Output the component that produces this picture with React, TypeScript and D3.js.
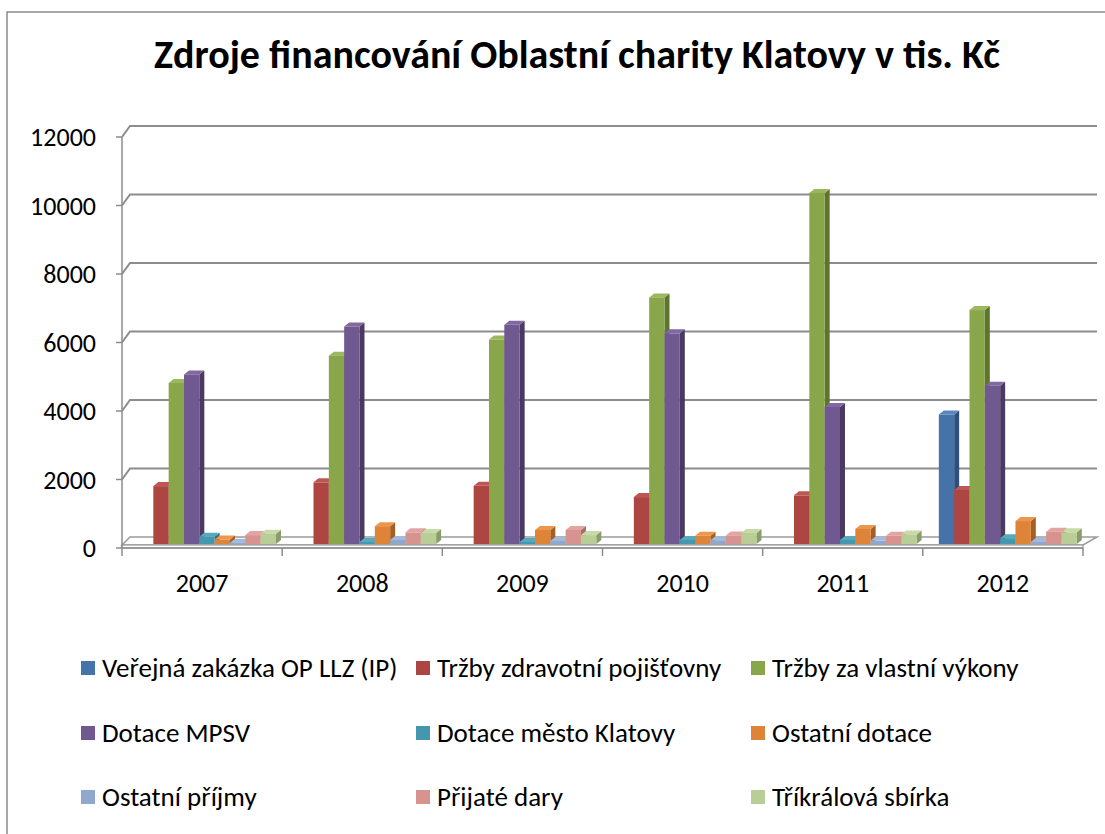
import React from 'react';
import * as d3 from 'd3';

const years = ['2007', '2008', '2009', '2010', '2011', '2012'];
const seriesNames = [
  'Veřejná zakázka OP LLZ (IP)',
  'Tržby zdravotní pojišťovny',
  'Tržby za vlastní výkony',
  'Dotace MPSV',
  'Dotace město Klatovy',
  'Ostatní dotace',
  'Ostatní příjmy',
  'Přijaté dary',
  'Tříkrálová sbírka',
];
const verejnaZakazka = [0, 0, 0, 0, 0, 3780];
const trzbyPojistovny = [1690, 1800, 1700, 1370, 1420, 1580];
const trzbyVykony = [4700, 5500, 5970, 7200, 10250, 6830];
const dotaceMPSV = [4950, 6350, 6400, 6150, 4000, 4620];
const dotaceMesto = [210, 60, 60, 120, 120, 170];
const ostatniDotace = [130, 520, 410, 240, 440, 670];
const ostatniPrijmy = [40, 120, 90, 110, 100, 60];
const prijateDary = [260, 340, 410, 250, 240, 360];
const trikralovaSbirka = [300, 320, 260, 320, 280, 340];
const yTicks = [0, 2000, 4000, 6000, 8000, 10000, 12000];

const seriesValues = [
  verejnaZakazka, trzbyPojistovny, trzbyVykony, dotaceMPSV, dotaceMesto,
  ostatniDotace, ostatniPrijmy, prijateDary, trikralovaSbirka,
];

// front, side, top shades (Excel 2007 palette with 3D lighting)
const colors = [
  ['#4672AA', '#2F4E78', '#5A86BE'],
  ['#AD4542', '#7A2D2B', '#BE5653'],
  ['#8AA64B', '#5E7530', '#9CB85C'],
  ['#705890', '#4A3A62', '#8168A2'],
  ['#4398AF', '#2C6C7E', '#56AAC0'],
  ['#DE8438', '#A65F22', '#F0964A'],
  ['#91A8CE', '#6A7FA3', '#A3BADF'],
  ['#D79390', '#A86C6A', '#E3A4A1'],
  ['#B9CD96', '#8A9C6A', '#C8DAA6'],
];

const FONT = "Carlito, Calibri, Lato, 'Open Sans', sans-serif";

const App: React.FC = () => {
  const width = 1105;
  const height = 834;

  const left = 122;
  const right = 1083;
  const floorY = 548;
  const depth = { dx: 8, dy: -11 };
  const bar = { dx: 5, dy: -4, base: -4 };

  const y = d3.scaleLinear().domain([0, 12000]).range([floorY, 137]);
  const x = d3.scaleBand<string>().domain(years).range([left, right]);
  const inner = d3.scaleBand<number>()
    .domain(d3.range(seriesNames.length))
    .range([16, 16 + 9 * 15.33]);

  const legendCols = [81, 416, 751];
  const legendRows = [668, 733, 797];

  return (
    <svg width={width} height={height} style={{ position: 'absolute', left: 0, top: 0, background: '#fff' }}>
      <rect x={7} y={12} width={width} height={height} fill="#fff" stroke="#8a8a8a" strokeWidth={1.5} />

      <text x={577} y={68} textAnchor="middle" fontFamily={FONT} fontWeight="bold" fontSize={40} fill="#000">
        Zdroje financování Oblastní charity Klatovy v tis. Kč
      </text>

      {/* floor */}
      <polygon
        points={`${left},${floorY - 3} ${right},${floorY - 3} ${right + depth.dx + 6},${floorY - 11} ${left + depth.dx},${floorY - 11}`}
        fill="#fff" stroke="#9a9a9a" strokeWidth={1.5}
      />
      <rect x={left} y={floorY - 3} width={right - left} height={3} fill="#fff" stroke="#9a9a9a" strokeWidth={1.2} />

      {/* gridlines on back and left walls */}
      {yTicks.map(t => (
        <g key={t}>
          {t > 0 && (
            <path
              d={`M${left},${y(t)} L${left + depth.dx},${y(t) + depth.dy} L${right + 14},${y(t) + depth.dy}`}
              fill="none" stroke="#8c8c8c" strokeWidth={2}
            />
          )}
          <line x1={left - 6} x2={left} y1={y(t)} y2={y(t)} stroke="#8c8c8c" strokeWidth={1.5} />
          <text x={96} y={y(t)} dy="0.35em" textAnchor="end" fontFamily={FONT} fontSize={26} fill="#000">
            {t}
          </text>
        </g>
      ))}
      <line x1={left} x2={left} y1={y(12000)} y2={floorY} stroke="#8c8c8c" strokeWidth={1.5} />

      {/* category axis */}
      <line x1={left} x2={right} y1={floorY} y2={floorY} stroke="#8c8c8c" strokeWidth={1.5} />
      {[...years.map(yr => x(yr)!), right].map((px, i) => (
        <line key={i} x1={px} x2={px} y1={floorY} y2={floorY + 8} stroke="#8c8c8c" strokeWidth={1.5} />
      ))}
      {years.map(yr => (
        <text key={yr} x={x(yr)! + x.bandwidth() / 2} y={583} dy="0.35em" textAnchor="middle"
          fontFamily={FONT} fontSize={26} fill="#000">
          {yr}
        </text>
      ))}

      {/* bars */}
      {years.map((yr, ci) => (
        <g key={yr}>
          {seriesValues.map((vals, si) => {
            const v = vals[ci];
            if (v <= 0) return null;
            const x0 = x(yr)! + inner(si)!;
            const x1 = x0 + inner.bandwidth();
            const yb = y(0) + bar.base;
            const yt = y(v) + bar.base;
            const [cf, cs, ct] = colors[si];
            return (
              <g key={si}>
                <polygon points={`${x1},${yb} ${x1 + bar.dx},${yb + bar.dy} ${x1 + bar.dx},${yt + bar.dy} ${x1},${yt}`} fill={cs} />
                <polygon points={`${x0},${yt} ${x0 + bar.dx},${yt + bar.dy} ${x1 + bar.dx},${yt + bar.dy} ${x1},${yt}`} fill={ct} />
                <rect x={x0} y={yt} width={x1 - x0} height={yb - yt} fill={cf} />
              </g>
            );
          })}
        </g>
      ))}

      {/* legend */}
      {seriesNames.map((name, i) => {
        const lx = legendCols[i % 3];
        const ly = legendRows[Math.floor(i / 3)];
        return (
          <g key={name}>
            <rect x={lx} y={ly - 7} width={14} height={14} fill={colors[i][0]} />
            <text x={lx + 21} y={ly} dy="0.35em" fontFamily={FONT} fontSize={27} fill="#000">
              {name}
            </text>
          </g>
        );
      })}
    </svg>
  );
};

export default App;
